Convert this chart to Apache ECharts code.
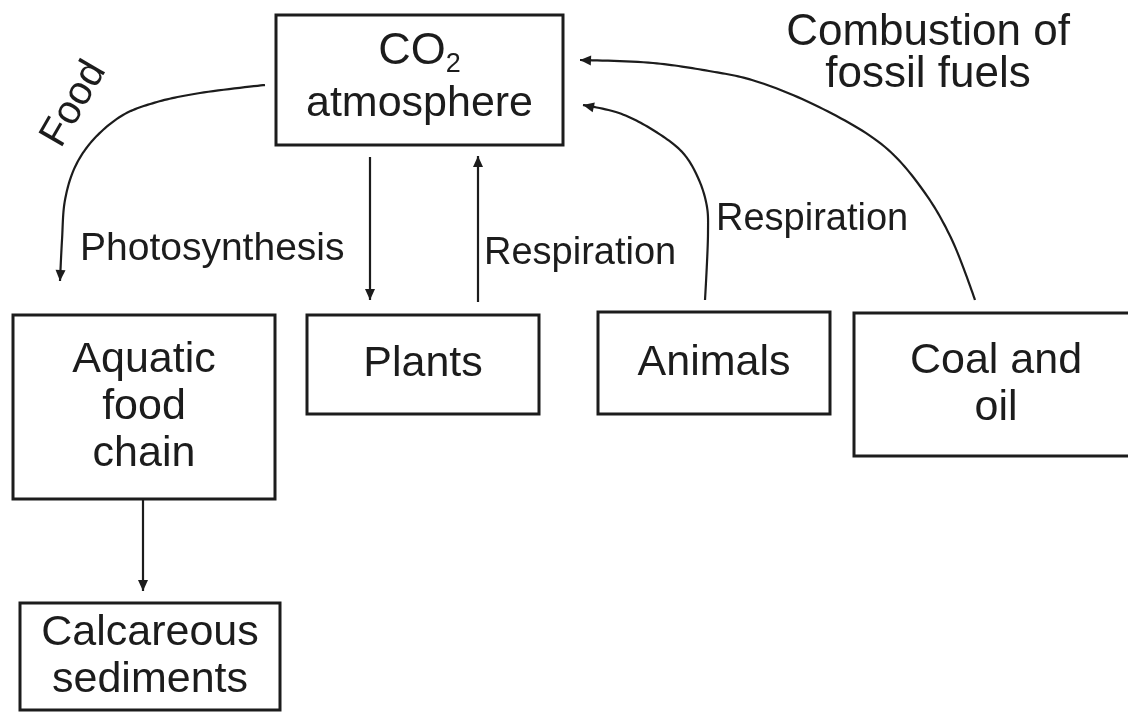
<!DOCTYPE html>
<html>
<head>
<meta charset="utf-8">
<script src="https://cdn.jsdelivr.net/npm/echarts@6/dist/echarts.min.js"></script>
<style>
  html, body { margin: 0; padding: 0; background: #fff; }
  #chart { width: 1128px; height: 713px; }
</style>
</head>
<body>
<div id="chart"></div>
<script>
// ---- Diagram data (in pixel-like data units) ----
const boxNames = ['CO2 atmosphere', 'Aquatic food chain', 'Plants', 'Animals', 'Coal and oil', 'Calcareous sediments'];
const boxLabels = ['{c|CO}{s|2}\n{t|atmosphere}', 'Aquatic\nfood\nchain', 'Plants', 'Animals', 'Coal and\noil', 'Calcareous\nsediments'];
const boxBounds = [
  [276, 15, 563, 145],
  [13, 315, 275, 499],
  [307, 315, 539, 414],
  [598, 312, 830, 414],
  [854, 313, 1138, 456],
  [20, 603, 280, 710]
];

const arrowNames = ['Food', 'Photosynthesis', 'Plant respiration', 'Animal respiration', 'Combustion', 'Sedimentation'];
const arrowPaths = [
  [[265, 85], [200, 93], [157, 102], [123, 115], [93, 140], [75, 167], [65, 200], [62, 240], [60, 281]],
  [[370, 157], [370, 300]],
  [[478, 302], [478, 156]],
  [[705, 300], [708, 233], [707, 207], [699, 180], [683, 153], [653, 130], [619, 113], [583, 105]],
  [[975, 300], [952, 240], [925, 193], [885, 147], [819, 107], [752, 80], [709, 71], [653, 63], [580, 60]],
  [[143, 499], [143, 591]]
];

const labelTexts = ['Food', 'Photosynthesis', 'Respiration', 'Respiration', 'Combustion of\nfossil fuels'];
const labelAnchors = [[74, 104], [80, 249], [484, 254], [716, 220], [928, 54]];
const labelAligns = ['center', 'left', 'left', 'left', 'center'];
const labelAngles = [60, 0, 0, 0, 0];
const labelSizes = [40, 39, 38, 38, 44];

// ---- Rendering ----
const FONT = "'Liberation Sans', Arial, sans-serif";
const INK = '#1c1c1c';

// centripetal Catmull-Rom through screen points, sampled densely
function catmull(pts) {
  if (pts.length < 3) return pts;
  const out = [];
  const P = [pts[0]].concat(pts, [pts[pts.length - 1]]);
  for (let i = 1; i < P.length - 2; i++) {
    const p0 = P[i - 1], p1 = P[i], p2 = P[i + 1], p3 = P[i + 2];
    const d = (a, b) => Math.pow(Math.hypot(b[0] - a[0], b[1] - a[1]) || 1e-6, 0.5);
    const t0 = 0, t1 = t0 + d(p0, p1), t2 = t1 + d(p1, p2), t3 = t2 + d(p2, p3);
    const N = 16;
    for (let k = 0; k < N; k++) {
      const t = t1 + (t2 - t1) * k / N;
      const lerp = (a, b, ta, tb) => {
        if (tb - ta < 1e-9) return a;
        return [(tb - t) / (tb - ta) * a[0] + (t - ta) / (tb - ta) * b[0],
                (tb - t) / (tb - ta) * a[1] + (t - ta) / (tb - ta) * b[1]];
      };
      const A1 = lerp(p0, p1, t0, t1), A2 = lerp(p1, p2, t1, t2), A3 = lerp(p2, p3, t2, t3);
      const B1 = lerp(A1, A2, t0, t2), B2 = lerp(A2, A3, t1, t3);
      out.push(lerp(B1, B2, t1, t2));
    }
  }
  out.push(pts[pts.length - 1]);
  return out;
}

const chart = echarts.init(document.getElementById('chart'), null, { renderer: 'canvas' });

const option = {
  animation: false,
  backgroundColor: '#ffffff',
  grid: { left: 0, right: 0, top: 0, bottom: 0 },
  xAxis: { type: 'value', min: 0, max: 1128, show: false },
  yAxis: { type: 'value', min: 0, max: 713, inverse: true, show: false },
  series: [
    {
      name: 'arrows',
      type: 'custom',
      coordinateSystem: 'cartesian2d',
      data: arrowNames.map((n, i) => [arrowPaths[i][0][0], arrowPaths[i][0][1]]),
      renderItem: function (params, api) {
        const path = arrowPaths[params.dataIndex];
        const pts = path.map(p => api.coord(p));
        const a = pts[pts.length - 2], b = pts[pts.length - 1];
        const ang = Math.atan2(b[1] - a[1], b[0] - a[0]);
        const L = 11, W = 5;
        const bx = b[0] - L * Math.cos(ang), by = b[1] - L * Math.sin(ang);
        const head = [
          [b[0], b[1]],
          [bx + W * Math.sin(ang), by - W * Math.cos(ang)],
          [bx - W * Math.sin(ang), by + W * Math.cos(ang)]
        ];
        return {
          type: 'group',
          children: [
            { type: 'polyline', shape: { points: catmull(pts) },
              style: { stroke: INK, lineWidth: 2.2, fill: null } },
            { type: 'polygon', shape: { points: head }, style: { fill: INK } }
          ]
        };
      }
    },
    {
      name: 'boxes',
      type: 'custom',
      coordinateSystem: 'cartesian2d',
      data: boxBounds.map(b => b.slice()),
      renderItem: function (params, api) {
        const i = params.dataIndex;
        const p0 = api.coord([api.value(0), api.value(1)]);
        const p1 = api.coord([api.value(2), api.value(3)]);
        return {
          type: 'group',
          children: [
            { type: 'rect',
              shape: { x: p0[0], y: p0[1], width: p1[0] - p0[0], height: p1[1] - p0[1] },
              style: { fill: '#ffffff', stroke: INK, lineWidth: 3 } },
            { type: 'text',
              x: (p0[0] + p1[0]) / 2, y: (p0[1] + p1[1]) / 2 + (i === 0 ? -2 : 0),
              style: {
                text: boxLabels[i],
                fill: INK,
                fontFamily: FONT,
                fontSize: 43,
                lineHeight: 47,
                align: 'center',
                verticalAlign: 'middle',
                rich: {
                  c: { fontSize: 45, lineHeight: 52, fontFamily: FONT, fill: INK },
                  s: { fontSize: 27, lineHeight: 20, verticalAlign: 'bottom', fontFamily: FONT, fill: INK },
                  t: { fontSize: 43, lineHeight: 52, fontFamily: FONT, fill: INK }
                }
              } }
          ]
        };
      }
    },
    {
      name: 'labels',
      type: 'custom',
      coordinateSystem: 'cartesian2d',
      data: labelAnchors.map(p => p.slice()),
      renderItem: function (params, api) {
        const i = params.dataIndex;
        const p = api.coord([api.value(0), api.value(1)]);
        return {
          type: 'text',
          x: p[0], y: p[1],
          rotation: labelAngles[i] * Math.PI / 180,
          style: {
            text: labelTexts[i],
            fill: INK,
            fontFamily: FONT,
            fontSize: labelSizes[i],
            lineHeight: 42,
            align: labelAligns[i],
            verticalAlign: 'middle'
          }
        };
      }
    }
  ]
};

chart.setOption(option);
</script>
</body>
</html>
